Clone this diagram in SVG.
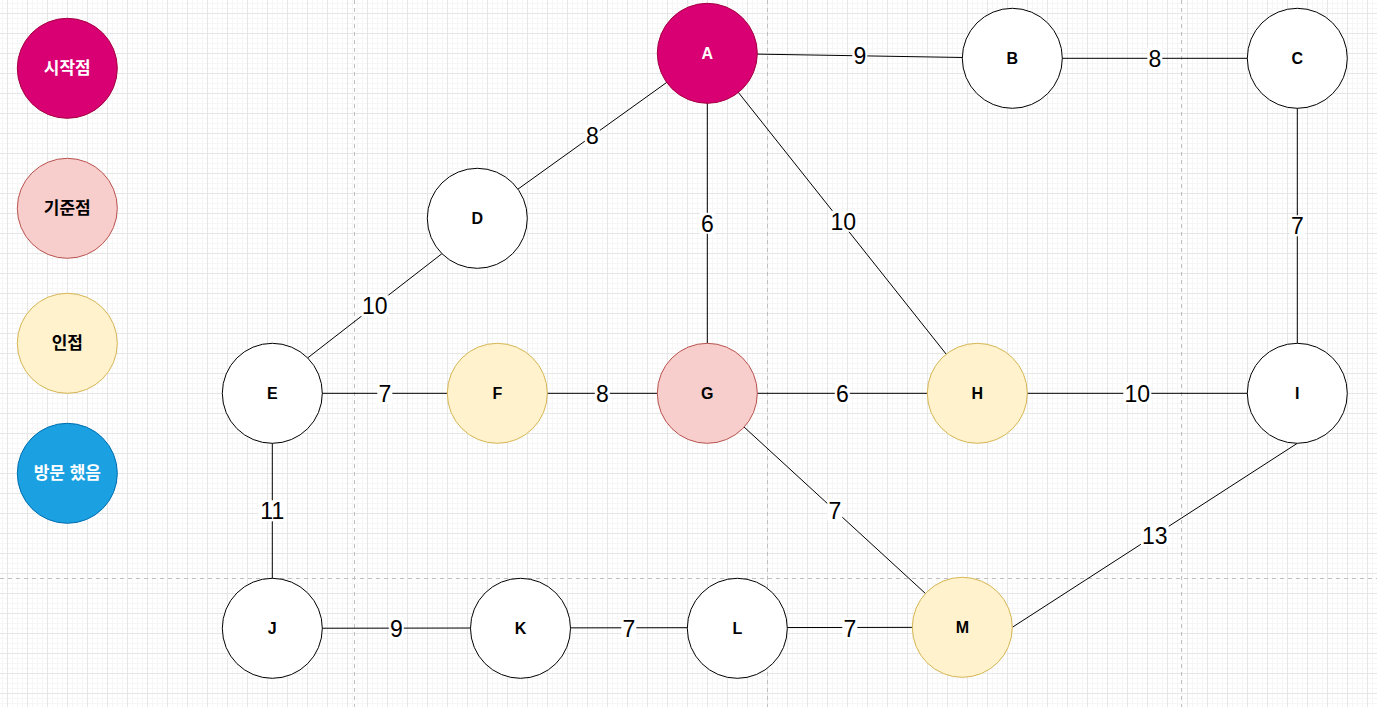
<svg xmlns="http://www.w3.org/2000/svg" width="1377" height="707" viewBox="0 0 1377 707">
<defs>
<pattern id="minor" width="5" height="5" patternUnits="userSpaceOnUse" x="7" y="13">
<path d="M0.5 0V5M0 0.5H5" stroke="#f6f6f6" stroke-width="1" fill="none"/>
</pattern>
<pattern id="major" width="20" height="20" patternUnits="userSpaceOnUse" x="7" y="13">
<path d="M0.5 0V20M0 0.5H20" stroke="#e6e6e6" stroke-width="1" fill="none"/>
</pattern>
</defs>
<style>
.n{fill:#ffffff;stroke:#000000;stroke-width:1}
.start{fill:#d80073;stroke:#a50040}
.base{fill:#f8cecc;stroke:#b85450}
.adj{fill:#fff2cc;stroke:#d6b656}
.vis{fill:#1ba1e2;stroke:#006eaf}
.t{font-family:"Liberation Sans","Noto Sans CJK KR",sans-serif;font-weight:bold;font-size:16px;text-anchor:middle;fill:#000}
.k{font-size:17px}
.w{fill:#ffffff}
.e line{stroke:#000;stroke-width:1}
.lb rect{fill:#ffffff}
.lb text{font-family:"Liberation Sans",sans-serif;font-size:23px;text-anchor:middle;fill:#000}
.pg{stroke:#c0c0c0;stroke-width:1;stroke-dasharray:4 4;fill:none}
</style>
<rect width="1377" height="707" fill="#ffffff"/>
<rect width="1377" height="707" fill="url(#minor)"/>
<rect width="1377" height="707" fill="url(#major)"/>
<g id="page-breaks">
<path class="pg" d="M354.5 0V707M767.5 0V707M1181.5 0V707M0 578.5H1377"/>
</g>
<g id="connectors" class="e">
<line x1="707.3" y1="53.3" x2="1012.3" y2="58.3"/>
<line x1="1012.3" y1="58.3" x2="1297.3" y2="58.3"/>
<line x1="1297.3" y1="58.3" x2="1297.3" y2="393.3"/>
<line x1="707.3" y1="53.3" x2="477.3" y2="218.3"/>
<line x1="707.3" y1="53.3" x2="707.3" y2="393.3"/>
<line x1="707.3" y1="53.3" x2="977.3" y2="393.3"/>
<line x1="441.9" y1="253.7" x2="307.7" y2="357.9"/>
<line x1="272.3" y1="393.3" x2="1297.3" y2="393.3"/>
<line x1="707.3" y1="393.3" x2="962.3" y2="627.3"/>
<line x1="1297.3" y1="443.3" x2="1012.3" y2="627.3"/>
<line x1="272.3" y1="393.3" x2="272.3" y2="628.3"/>
<line x1="272.3" y1="628.3" x2="962.3" y2="627.3"/>
<g class="lb">
<rect x="852.3" y="45.3" width="15" height="21"/><text x="859.8" y="64.1">9</text>
<rect x="1147.3" y="47.8" width="15" height="21"/><text x="1154.8" y="66.6">8</text>
<rect x="1289.8" y="215.3" width="15" height="21"/><text x="1297.3" y="234.1">7</text>
<rect x="584.8" y="125.3" width="15" height="21"/><text x="592.3" y="144.1">8</text>
<rect x="699.8" y="212.8" width="15" height="21"/><text x="707.3" y="231.6">6</text>
<rect x="829.3" y="210.8" width="28" height="21"/><text x="843.3" y="229.6">10</text>
<rect x="360.8" y="295.3" width="28" height="21"/><text x="374.8" y="314.1">10</text>
<rect x="377.3" y="382.8" width="15" height="21"/><text x="384.8" y="401.6">7</text>
<rect x="594.8" y="382.8" width="15" height="21"/><text x="602.3" y="401.6">8</text>
<rect x="834.8" y="382.8" width="15" height="21"/><text x="842.3" y="401.6">6</text>
<rect x="1123.3" y="382.8" width="28" height="21"/><text x="1137.3" y="401.6">10</text>
<rect x="827.3" y="499.8" width="15" height="21"/><text x="834.8" y="518.6">7</text>
<rect x="1140.8" y="524.8" width="28" height="21"/><text x="1154.8" y="543.6">13</text>
<rect x="258.3" y="500.3" width="28" height="21"/><text x="272.3" y="519.1">11</text>
<rect x="388.8" y="617.8" width="15" height="21"/><text x="396.3" y="636.6">9</text>
<rect x="621.3" y="617.8" width="15" height="21"/><text x="628.8" y="636.6">7</text>
<rect x="842.3" y="617.8" width="15" height="21"/><text x="849.8" y="636.6">7</text>
</g>
</g>
<g id="legend-start"><circle class="start" cx="67.3" cy="68.3" r="50"/><text class="t k w" x="67.3" y="74.3">시작점</text></g>
<g id="legend-base"><circle class="base" cx="67.3" cy="208.3" r="50"/><text class="t k" x="67.3" y="214.3">기준점</text></g>
<g id="legend-adj"><circle class="adj" cx="67.3" cy="343.3" r="50"/><text class="t k" x="67.3" y="349.3">인접</text></g>
<g id="legend-visited"><circle class="vis" cx="67.3" cy="473.3" r="50"/><text class="t k w" x="67.3" y="479.3">방문 했음</text></g>
<g id="node-A"><circle class="start" cx="707.3" cy="53.3" r="50"/><text class="t w" x="707.3" y="59.3">A</text></g>
<g id="node-B"><circle class="n" cx="1012.3" cy="58.3" r="50"/><text class="t" x="1012.3" y="64.3">B</text></g>
<g id="node-C"><circle class="n" cx="1297.3" cy="58.3" r="50"/><text class="t" x="1297.3" y="64.3">C</text></g>
<g id="node-D"><circle class="n" cx="477.3" cy="218.3" r="50"/><text class="t" x="477.3" y="224.3">D</text></g>
<g id="node-E"><circle class="n" cx="272.3" cy="393.3" r="50"/><text class="t" x="272.3" y="399.3">E</text></g>
<g id="node-F"><circle class="n adj" cx="497.3" cy="393.3" r="50"/><text class="t" x="497.3" y="399.3">F</text></g>
<g id="node-G"><circle class="n base" cx="707.3" cy="393.3" r="50"/><text class="t" x="707.3" y="399.3">G</text></g>
<g id="node-H"><circle class="n adj" cx="977.3" cy="393.3" r="50"/><text class="t" x="977.3" y="399.3">H</text></g>
<g id="node-I"><circle class="n" cx="1297.3" cy="393.3" r="50"/><text class="t" x="1297.3" y="399.3">I</text></g>
<g id="node-J"><circle class="n" cx="272.3" cy="628.3" r="50"/><text class="t" x="272.3" y="634.3">J</text></g>
<g id="node-K"><circle class="n" cx="520.5" cy="628.3" r="50"/><text class="t" x="520.5" y="634.3">K</text></g>
<g id="node-L"><circle class="n" cx="737.3" cy="628.3" r="50"/><text class="t" x="737.3" y="634.3">L</text></g>
<g id="node-M"><circle class="n adj" cx="962.3" cy="627.3" r="50"/><text class="t" x="962.3" y="633.3">M</text></g>
</svg>
